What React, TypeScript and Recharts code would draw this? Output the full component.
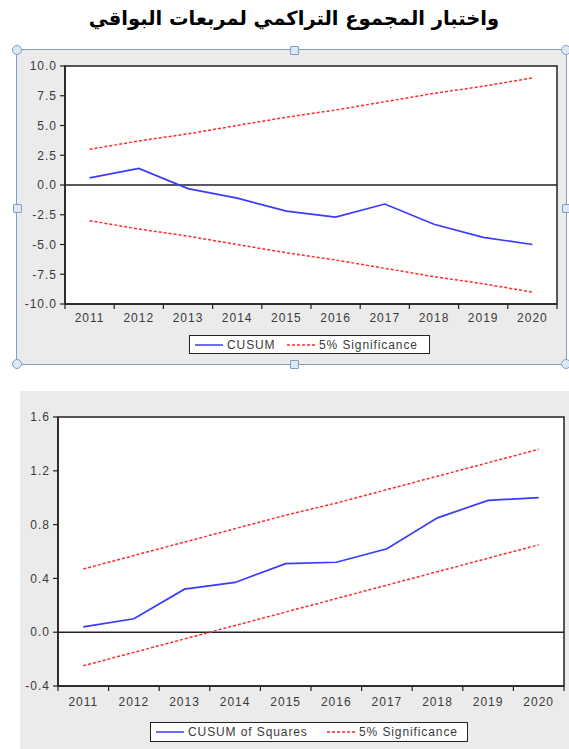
import { LineChart, Line, XAxis, YAxis, ReferenceLine, ReferenceArea, Legend } from 'recharts';

const years = ['2011', '2012', '2013', '2014', '2015', '2016', '2017', '2018', '2019', '2020'];

// CUSUM test
const cusum = [0.6, 1.4, -0.3, -1.1, -2.2, -2.7, -1.6, -3.3, -4.4, -5.0];
const cusumUpper = [3.0, 3.7, 4.3, 5.0, 5.7, 6.3, 7.0, 7.7, 8.3, 9.0];
const cusumLower = [-3.0, -3.7, -4.3, -5.0, -5.7, -6.3, -7.0, -7.7, -8.3, -9.0];
const cusumTicks = [-10, -7.5, -5, -2.5, 0, 2.5, 5, 7.5, 10];

// CUSUM of squares test
const cusumSq = [0.04, 0.1, 0.32, 0.37, 0.51, 0.52, 0.62, 0.85, 0.98, 1.0];
const cusumSqUpper = [0.47, 0.57, 0.67, 0.77, 0.87, 0.96, 1.06, 1.16, 1.26, 1.36];
const cusumSqLower = [-0.25, -0.15, -0.05, 0.05, 0.15, 0.25, 0.35, 0.45, 0.55, 0.65];
const cusumSqTicks = [-0.4, 0, 0.4, 0.8, 1.2, 1.6];

const cusumData = years.map((year, i) => ({ year, cusum: cusum[i], upper: cusumUpper[i], lower: cusumLower[i] }));
const cusumSqData = years.map((year, i) => ({ year, cusum: cusumSq[i], upper: cusumSqUpper[i], lower: cusumSqLower[i] }));

const FONT = '"Liberation Sans", Arial, sans-serif';
const TEXT = '#3a3a3a';
const INK = '#222';
const BLUE = '#3a3aff';
const RED = '#ff2a2a';
const GREY = '#ebebeb';
const FRAME = '#7f9fc6';

const tickStyle = { fontSize: 12, fill: TEXT, fontFamily: FONT, letterSpacing: 1 };

function YearTick(props: any) {
  const { x, y, payload, index, visibleTicksCount, labelDy } = props;
  const half = payload.offset ?? 0;
  return (
    <g>
      <line x1={x - half} x2={x - half} y1={y} y2={y + 5} stroke={INK} strokeWidth={1.2} />
      {index === visibleTicksCount - 1 && (
        <line x1={x + half} x2={x + half} y1={y} y2={y + 5} stroke={INK} strokeWidth={1.2} />
      )}
      <text x={x} y={y + labelDy} textAnchor="middle" {...tickStyle}>
        {payload.value}
      </text>
    </g>
  );
}

function LegendBox(props: any) {
  const { payload, widths } = props;
  const items = (payload || [])
    .filter((p: any) => p.type !== 'none')
    .sort((a: any, b: any) => (a.dataKey === 'cusum' ? -1 : 0) - (b.dataKey === 'cusum' ? -1 : 0));
  return (
    <div
      style={{
        boxSizing: 'border-box',
        height: '100%',
        border: `1.5px solid ${INK}`,
        background: '#fff',
        display: 'flex',
        alignItems: 'center',
        paddingLeft: 5,
        fontFamily: FONT,
        fontSize: 12,
        letterSpacing: 0.9,
        color: TEXT,
        whiteSpace: 'nowrap',
      }}
    >
      {items.map((p: any, i: number) => (
        <div key={p.value} style={{ display: 'flex', alignItems: 'center', width: widths[i] }}>
          <svg width={28} height={6} style={{ marginRight: 4 }}>
            <line
              x1={0}
              x2={28}
              y1={3}
              y2={3}
              stroke={p.color}
              strokeWidth={1.5}
              strokeDasharray={p.dataKey === 'cusum' ? undefined : '3 2'}
            />
          </svg>
          <span>{p.value}</span>
        </div>
      ))}
    </div>
  );
}

type PanelProps = {
  data: { year: string; cusum: number; upper: number; lower: number }[];
  name: string;
  ticks: number[];
  domain: [number, number];
  width: number;
  height: number;
  margin: { top: number; right: number; left: number; bottom: number };
  yWidth: number;
  xHeight: number;
  labelDy: number;
  legendBox: { left: number; top: number; width: number; height: number };
  legendWidths: number[];
};

function Panel({ data, name, ticks, domain, width, height, margin, yWidth, xHeight, labelDy, legendBox, legendWidths }: PanelProps) {
  return (
    <LineChart width={width} height={height} data={data} margin={margin}>
      <XAxis
        dataKey="year"
        scale="band"
        interval={0}
        tickLine={false}
        tickSize={0}
        tickMargin={0}
        height={xHeight}
        axisLine={{ stroke: INK, strokeWidth: 1.5 }}
        tick={<YearTick labelDy={labelDy} />}
      />
      <YAxis
        type="number"
        domain={domain}
        ticks={ticks}
        interval={0}
        width={yWidth}
        tickSize={5}
        tickMargin={3}
        tickLine={{ stroke: INK, strokeWidth: 1.2 }}
        axisLine={{ stroke: INK, strokeWidth: 1.5 }}
        tick={tickStyle}
        tickFormatter={(v: number) => v.toFixed(1)}
      />
      <ReferenceArea y1={domain[0]} y2={domain[1]} fill="#fff" fillOpacity={1} stroke="none" ifOverflow="visible" />
      <ReferenceLine y={0} stroke={INK} strokeWidth={1.5} />
      <Line
        dataKey="cusum"
        name={name}
        type="linear"
        stroke={BLUE}
        strokeWidth={1.7}
        dot={false}
        isAnimationActive={false}
      />
      <Line
        dataKey="upper"
        name="5% Significance"
        type="linear"
        stroke={RED}
        strokeWidth={1.5}
        strokeDasharray="3 2"
        dot={false}
        isAnimationActive={false}
      />
      <Line
        dataKey="lower"
        legendType="none"
        type="linear"
        stroke={RED}
        strokeWidth={1.5}
        strokeDasharray="3 2"
        dot={false}
        isAnimationActive={false}
      />
      <ReferenceArea y1={domain[0]} y2={domain[1]} fill="none" stroke={INK} strokeWidth={1.5} ifOverflow="visible" />
      <Legend
        verticalAlign="middle"
        layout="horizontal"
        wrapperStyle={{ left: legendBox.left, top: legendBox.top, width: legendBox.width, height: legendBox.height }}
        content={<LegendBox widths={legendWidths} />}
      />
    </LineChart>
  );
}

function Handle({ x, y, round }: { x: number; y: number; round?: boolean }) {
  const s = round ? 10 : 9;
  return (
    <div
      style={{
        position: 'absolute',
        left: x - s / 2,
        top: y - s / 2,
        width: s,
        height: s,
        boxSizing: 'border-box',
        borderRadius: round ? '50%' : 1,
        border: `1px solid ${FRAME}`,
        background: '#dde8f4',
      }}
    />
  );
}

export default function App() {
  return (
    <div style={{ position: 'absolute', left: 0, top: 0, width: 569, height: 749, background: '#fff', overflow: 'hidden' }}>
      <div
        dir="rtl"
        style={{
          position: 'absolute',
          left: 0,
          top: 7,
          width: 588,
          textAlign: 'center',
          fontFamily: '"DejaVu Sans", sans-serif',
          fontWeight: 'bold',
          fontSize: 19.5,
          color: '#000',
        }}
      >
        واختبار المجموع التراكمي لمربعات البواقي
      </div>

      <div
        style={{
          position: 'absolute',
          left: 17,
          top: 50,
          width: 549,
          height: 314,
          background: GREY,
          boxShadow: `0 0 0 1px ${FRAME}`,
        }}
      >
        <Panel
          data={cusumData}
          name="CUSUM"
          ticks={cusumTicks}
          domain={[-10, 10]}
          width={549}
          height={314}
          margin={{ top: 16, right: 9, left: 0, bottom: 0 }}
          yWidth={48}
          xHeight={60}
          labelDy={17.5}
          legendBox={{ left: 172, top: 285, width: 241, height: 19 }}
          legendWidths={[92, 140]}
        />
      </div>
      <Handle x={17} y={50} round />
      <Handle x={294.5} y={50} />
      <Handle x={566} y={50} round />
      <Handle x={17} y={208} />
      <Handle x={566} y={208} />
      <Handle x={17} y={364} round />
      <Handle x={294.5} y={364} />
      <Handle x={566} y={364} round />

      <div style={{ position: 'absolute', left: 20, top: 391, width: 549, height: 358, background: GREY }}>
        <Panel
          data={cusumSqData}
          name="CUSUM of Squares"
          ticks={cusumSqTicks}
          domain={[-0.4, 1.6]}
          width={549}
          height={358}
          margin={{ top: 26, right: 5, left: 0, bottom: 0 }}
          yWidth={38}
          xHeight={63}
          labelDy={20.3}
          legendBox={{ left: 130, top: 331, width: 318, height: 20 }}
          legendWidths={[171, 140]}
        />
      </div>
    </div>
  );
}
